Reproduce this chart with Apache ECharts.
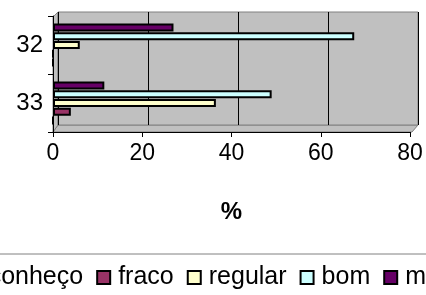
<!DOCTYPE html>
<html>
<head>
<meta charset="utf-8">
<script src="https://cdn.jsdelivr.net/npm/echarts@6/dist/echarts.min.js"></script>
<style>
  html, body { margin: 0; padding: 0; background: #fff; }
  #main { width: 426px; height: 295px; }
</style>
</head>
<body>
<div id="main"></div>
<script>
  // categories, bottom to top
  var categories = ['33', '32'];
  var seriesNames = ['não conheço', 'fraco', 'regular', 'bom', 'muito bom'];
  var seriesColors = ['#9999FF', '#993366', '#FFFFCC', '#CCFFFF', '#660066'];
  // values per series, same order as categories
  var naoConheco = [0, 0];
  var fraco = [4, 0];
  var regular = [36.5, 6];
  var bom = [49, 67.5];
  var muitoBom = [11.5, 27];
  var xTicks = [0, 80, 20]; // min, max, interval

  var values = [naoConheco, fraco, regular, bom, muitoBom];
  var font = 'Liberation Sans, Arial, sans-serif';

  var myChart = echarts.init(document.getElementById('main'));

  // echarts puts the first series on top of the group, so add them reversed
  var series = [];
  for (var i = seriesNames.length - 1; i >= 0; i--) {
    series.push({
      name: seriesNames[i],
      type: 'bar',
      xAxisIndex: 1,
      yAxisIndex: 1,
      data: values[i],
      barWidth: 8,
      barGap: '10%',
      itemStyle: { color: seriesColors[i], borderColor: '#000', borderWidth: 2 }
    });
  }

  myChart.setOption({
    animation: false,
    backgroundColor: '#fff',
    textStyle: { fontFamily: font },
    graphic: [
      // 3D floor and left wall
      { type: 'polygon', z: -1, shape: { points: [[53, 132], [58, 125], [418, 125], [412, 132]] },
        style: { fill: '#C0C0C0', stroke: '#808080', lineWidth: 1 } },
      { type: 'polygon', z: -1, shape: { points: [[53, 132], [53, 17], [58, 12], [58, 125]] },
        style: { fill: '#C0C0C0', stroke: '#808080', lineWidth: 1 } }
    ],
    legend: {
      data: seriesNames,
      icon: 'rect',
      left: -87,
      top: 254,
      width: 800,
      orient: 'horizontal',
      itemWidth: 13,
      itemHeight: 13,
      itemGap: 13,
      padding: [11, 5, 40, 5],
      borderColor: '#808080',
      borderWidth: 1,
      itemStyle: { borderColor: '#000', borderWidth: 2 },
      textStyle: { fontSize: 25, color: '#000', fontFamily: font, padding: [0, 0, 0, 3] }
    },
    grid: [
      // back wall
      { left: 58, right: 8, top: 12, bottom: 170, show: true, backgroundColor: '#C0C0C0', borderColor: '#808080', borderWidth: 1 },
      // front axes
      { left: 53, right: 16, top: 16, bottom: 163 }
    ],
    xAxis: [
      {
        gridIndex: 0, type: 'value', min: xTicks[0], max: xTicks[1], interval: xTicks[2],
        axisLine: { show: false }, axisTick: { show: false }, axisLabel: { show: false },
        splitLine: { show: true, lineStyle: { color: '#000', width: 1 } }
      },
      {
        gridIndex: 1, type: 'value', min: xTicks[0], max: xTicks[1], interval: xTicks[2],
        axisLine: { show: true, lineStyle: { color: '#000', width: 1 } },
        axisTick: { show: true, length: 5, lineStyle: { color: '#000' } },
        axisLabel: { fontSize: 23, color: '#000', margin: 10, fontFamily: font },
        splitLine: { show: false },
        name: '%', nameLocation: 'middle', nameGap: 68,
        nameTextStyle: { fontSize: 24, fontWeight: 'bold', color: '#000', fontFamily: font }
      }
    ],
    yAxis: [
      { gridIndex: 0, type: 'category', data: categories, show: false },
      {
        gridIndex: 1, type: 'category', data: categories,
        axisLine: { show: true, lineStyle: { color: '#000', width: 1 } },
        axisTick: { show: true, length: 5, lineStyle: { color: '#000' } },
        axisLabel: { fontSize: 24, color: '#000', margin: 10, fontFamily: font }
      }
    ],
    series: series
  });
</script>
</body>
</html>
